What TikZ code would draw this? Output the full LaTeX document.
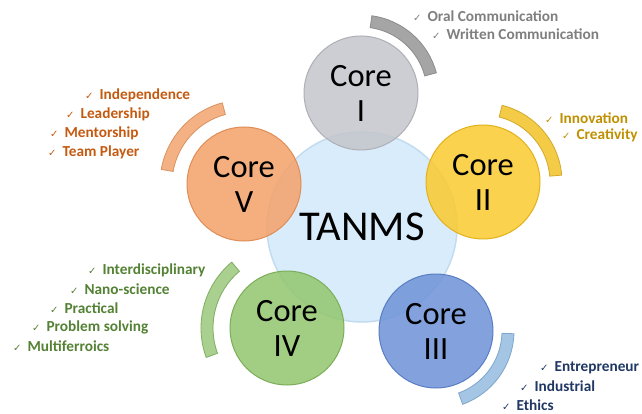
\documentclass[tikz,border=0pt]{standalone}
\usepackage{fontspec}
\setmainfont{Carlito}
\newfontfamily\symfont{DejaVu Sans}
\usetikzlibrary{calc}
\definecolor{cI}{HTML}{C4C6CC}\definecolor{cIb}{HTML}{AEB0B6}
\definecolor{cII}{HTML}{FACB30}\definecolor{cIIb}{HTML}{E2B21E}
\definecolor{cIII}{HTML}{6F93D8}\definecolor{cIIIb}{HTML}{5A7EC4}
\definecolor{cIV}{HTML}{93C66F}\definecolor{cIVb}{HTML}{7CAE5A}
\definecolor{cV}{HTML}{F4A26B}\definecolor{cVb}{HTML}{E08C55}
\definecolor{aI}{HTML}{A5A5A5}\definecolor{aIb}{HTML}{8C8C8C}
\definecolor{aII}{HTML}{F3CB47}\definecolor{aIIb}{HTML}{D4A92A}
\definecolor{aIII}{HTML}{A4C6E4}\definecolor{aIIIb}{HTML}{7FA6CC}
\definecolor{aIV}{HTML}{A9D08E}\definecolor{aIVb}{HTML}{7FAE63}
\definecolor{aV}{HTML}{F4B183}\definecolor{aVb}{HTML}{D9935F}
\definecolor{tI}{HTML}{7F7F7F}
\definecolor{tII}{HTML}{BF9000}
\definecolor{tIII}{HTML}{203864}
\definecolor{tIV}{HTML}{548235}
\definecolor{tV}{HTML}{C55A11}
\definecolor{ctr}{HTML}{D9ECFB}\definecolor{ctrb}{HTML}{C3DCEF}
\newcommand{\chk}{{\symfont\fontsize{10}{10}\selectfont ✓}\hspace{6pt}}
\tikzset{
  core/.style={circle, minimum size=114pt, inner sep=0pt, align=center,
    font=\fontsize{32.5}{35}\selectfont, text=black, line width=1pt,
    fill opacity=0.86, text opacity=1},
  item/.style={anchor=west, inner sep=0pt, font=\bfseries\fontsize{15.3}{15}\selectfont},
}
% center, a1, a2, rin, rout, fill, draw
\newcommand{\bandarc}[7]{%
  \filldraw[fill=#6, draw=#7, line width=0.8pt]
    ($(#1)+(#2:#4)$) arc[start angle=#2, end angle=#3, radius=#4]
    -- ($(#1)+(#3:#5)$) arc[start angle=#3, end angle=#2, radius=#5] -- cycle;}
\begin{document}
\begin{tikzpicture}[x=1pt,y=1pt]
\useasboundingbox (0,0) rectangle (642,-414);
\fill[white] (0,0) rectangle (642,-414);
% central circle
\node[circle, minimum size=190pt, inner sep=0pt, fill=ctr, draw=ctrb, line width=1.5pt,
  font=\fontsize{42.5}{42}\selectfont] (tanms) at (362,-227) {TANMS};
% core circles
\node[core, fill=cI, draw=cIb] (c1) at (361,-93) {Core\\I};
\node[core, fill=cII, draw=cIIb] (c2) at (483,-182) {Core\\II};
\node[core, fill=cIII, draw=cIIIb] (c3) at (436,-331) {Core\\III};
\node[core, fill=cIV, draw=cIVb] (c4) at (287,-328) {Core\\IV};
\node[core, fill=cV, draw=cVb] (c5) at (244,-184) {Core\\V};
% arcs
\bandarc{c1.center}{15}{82}{66pt}{78pt}{aI}{aIb}
\bandarc{c2.center}{5}{76}{67pt}{79pt}{aII}{aIIb}
\bandarc{c3.center}{-70}{-2}{66pt}{78pt}{aIII}{aIIIb}
\bandarc{c4.center}{130}{200}{74pt}{86pt}{aIV}{aIVb}
\bandarc{c5.center}{105}{170}{72pt}{84pt}{aV}{aVb}
% lists
\node[item, text=tI] (i1a) at (413,-16) {\chk Oral Communication};
\node[item, text=tI] (i1b) at (432,-34) {\chk Written Communication};
\node[item, text=tII] (i2a) at (545,-118) {\chk Innovation};
\node[item, text=tII] (i2b) at (562,-135) {\chk Creativity};
\node[item, text=tIII] (i3a) at (540,-368) {\chk Entrepreneur};
\node[item, text=tIII] (i3b) at (520,-386) {\chk Industrial};
\node[item, text=tIII] (i3c) at (502,-405) {\chk Ethics};
\node[item, text=tIV] (i4a) at (88,-270) {\chk Interdisciplinary};
\node[item, text=tIV] (i4b) at (70,-289) {\chk Nano-science};
\node[item, text=tIV] (i4c) at (50,-308) {\chk Practical};
\node[item, text=tIV] (i4d) at (32,-327) {\chk Problem solving};
\node[item, text=tIV] (i4e) at (13,-346) {\chk Multiferroics};
\node[item, text=tV] (i5a) at (85,-95) {\chk Independence};
\node[item, text=tV] (i5b) at (66,-114) {\chk Leadership};
\node[item, text=tV] (i5c) at (50,-133) {\chk Mentorship};
\node[item, text=tV] (i5d) at (48,-152) {\chk Team Player};
\end{tikzpicture}
\end{document}
